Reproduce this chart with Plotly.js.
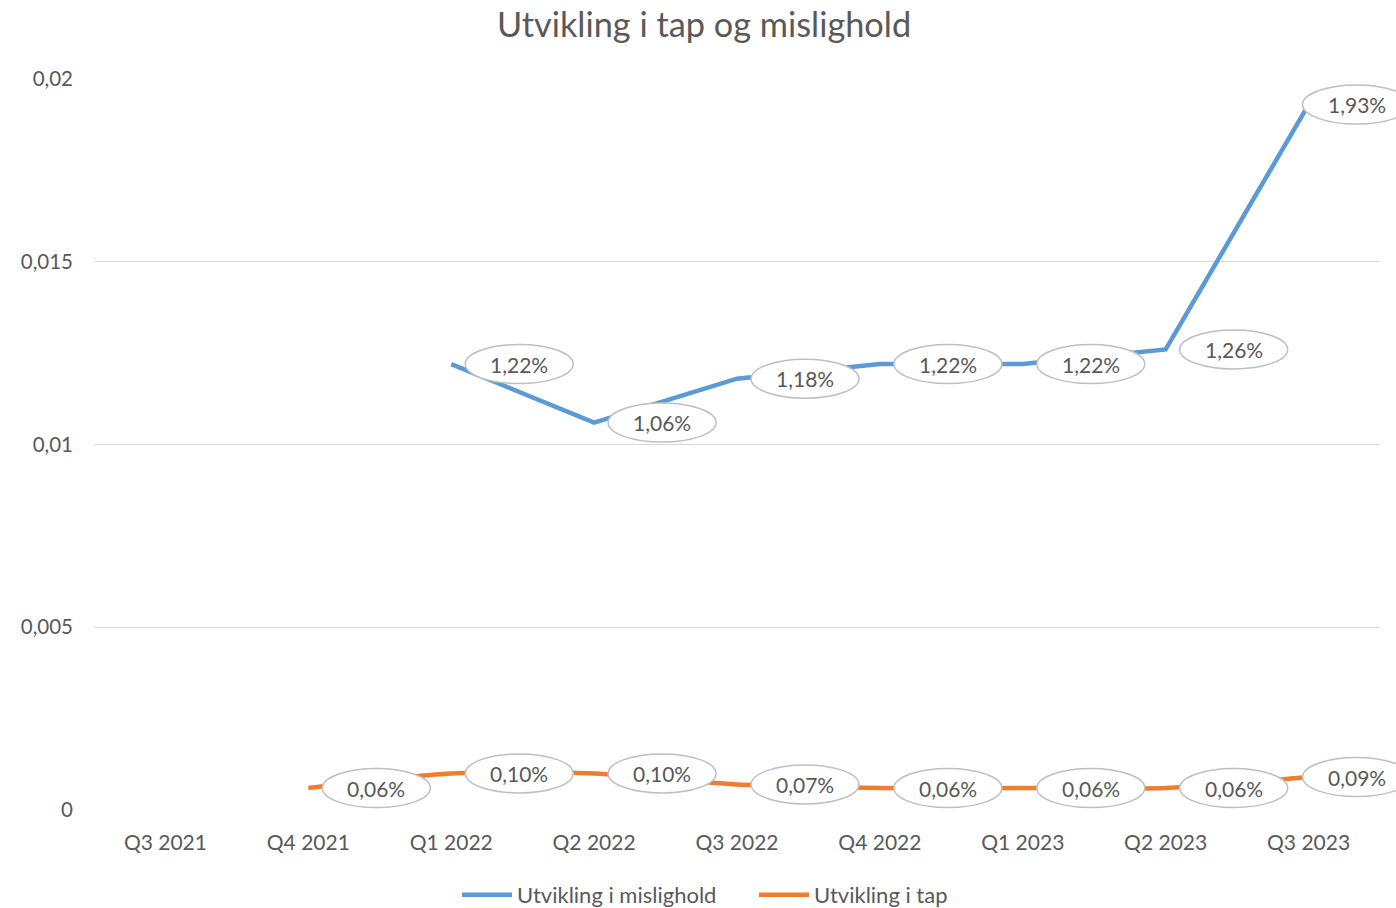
<!DOCTYPE html>
<html>
<head>
<meta charset="utf-8">
<script src="https://cdn.plot.ly/plotly-3.0.1.min.js"></script>
<style>html,body{margin:0;padding:0;background:#fff;}#chart{width:1396px;height:908px;}</style>
</head>
<body>
<div id="chart"></div>
<script>
const categories = ["Q3 2021","Q4 2021","Q1 2022","Q2 2022","Q3 2022","Q4 2022","Q1 2023","Q2 2023","Q3 2023"];
const mislighold = [null, null, 0.0122, 0.0106, 0.0118, 0.0122, 0.0122, 0.0126, 0.0193];
const tap = [null, 0.0006, 0.0010, 0.0010, 0.0007, 0.0006, 0.0006, 0.0006, 0.0009];
const seriesNames = ["Utvikling i mislighold", "Utvikling i tap"];
const yTicks = [0, 0.005, 0.01, 0.015, 0.02];

const FONT = "Lato, 'Open Sans', sans-serif";
const GREY = "#595959";

function pct(v){ return (v*100).toFixed(2).replace('.', ',') + '%'; }

const traces = [
  {x: categories, y: mislighold, name: seriesNames[0], type: 'scatter', mode: 'lines',
   line: {color: '#5B9BD5', width: 4.5}, hoverinfo: 'skip'},
  {x: categories, y: tap, name: seriesNames[1], type: 'scatter', mode: 'lines',
   line: {color: '#ED7D31', width: 4.5, shape: 'spline', smoothing: 0.8}, hoverinfo: 'skip'}
];

const shapes = [];
const annotations = [];
// white mask for the gridline overhang right of the last category band
shapes.push({type: 'rect', layer: 'between', xref: 'x', yref: 'y', x0: 8.5, x1: 9, y0: -0.001, y1: 0.021,
  fillcolor: '#ffffff', line: {width: 0}});
[mislighold, tap].forEach(function(series){
  series.forEach(function(v, i){
    if (v === null) return;
    // the label of the last point is pulled left to stay inside the chart
    const dx = (i === categories.length - 1) ? 48 : 68;
    shapes.push({type: 'circle', layer: 'above', xref: 'x', yref: 'y',
      xsizemode: 'pixel', ysizemode: 'pixel', xanchor: i, yanchor: v,
      x0: dx - 54, x1: dx + 54, y0: -19.5, y1: 19.5,
      fillcolor: '#ffffff', line: {color: '#bfbfbf', width: 1.5}});
    annotations.push({x: i, y: v, xref: 'x', yref: 'y', text: pct(v), showarrow: false,
      xshift: dx, yshift: 0, font: {family: FONT, size: 21, color: GREY}});
  });
});

const layout = {
  width: 1396, height: 908,
  margin: {l: 94, r: 0, t: 79, b: 98},
  paper_bgcolor: '#ffffff', plot_bgcolor: '#ffffff',
  separators: ', ',
  font: {family: FONT, color: GREY, size: 18},
  title: {text: 'Utvikling i tap og mislighold', x: 704/1396, xanchor: 'center', y: 1 - 25/908, yanchor: 'middle',
    yref: 'container', font: {family: FONT, size: 34.3, color: GREY}},
  xaxis: {type: 'category', range: [-0.5, 8.5 + 16/142.9], showgrid: false, zeroline: false, showline: false,
    ticks: '', ticklabelstandoff: 18, tickfont: {family: FONT, size: 21, color: GREY}, fixedrange: true},
  yaxis: {range: [0, 0.02], tickvals: yTicks, showgrid: true, gridcolor: '#d9d9d9', gridwidth: 1.3,
    zeroline: false, showline: false, ticks: '', ticklabelstandoff: 20,
    tickfont: {family: FONT, size: 20.5, color: GREY}, fixedrange: true},
  showlegend: true,
  legend: {orientation: 'h', x: 754/1396, xref: 'container', xanchor: 'center', y: 1 - 895/908, yanchor: 'middle', yref: 'container',
    font: {family: FONT, size: 22, color: GREY}, itemwidth: 50, tracegroupgap: 0,
    entrywidth: 232, entrywidthmode: 'pixels'},
  shapes: shapes,
  annotations: annotations
};

Plotly.newPlot('chart', traces, layout, {displayModeBar: false, staticPlot: true});
</script>
</body>
</html>
